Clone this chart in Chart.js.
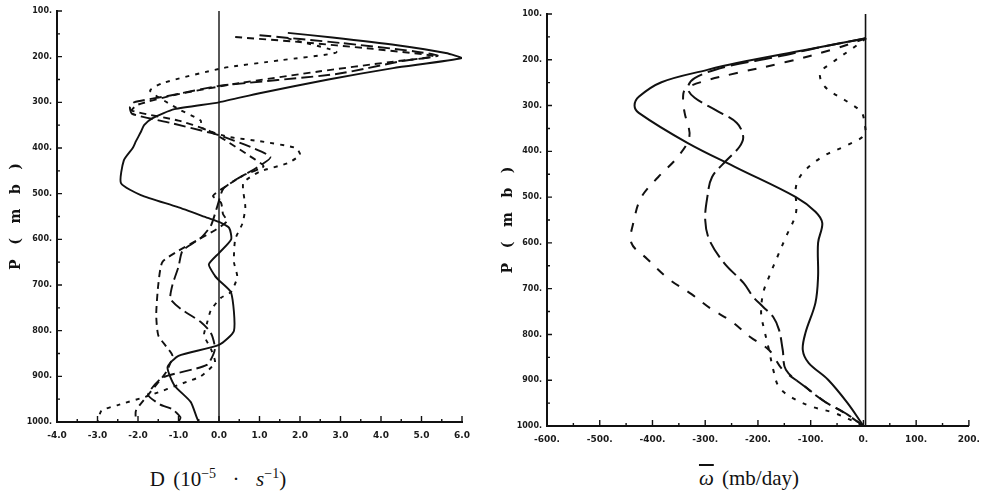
<!DOCTYPE html>
<html>
<head>
<meta charset="utf-8">
<script src="https://cdn.jsdelivr.net/npm/chart.js@4.4.0/dist/chart.umd.min.js"></script>
<style>
  body { margin: 0; background: #fff; }
  #wrap { position: relative; width: 988px; height: 498px; overflow: hidden; }
  canvas { position: absolute; top: 0; }
  #divChart { left: 0; }
  #omegaChart { left: 494px; }
  .xtitle {
    position: absolute; top: 466px;
    font-family: 'Liberation Serif', 'DejaVu Serif', serif;
    font-size: 21px; color: #111; white-space: nowrap;
    word-spacing: 3px;
    transform: translateX(-50%);
  }
  .xtitle sup { font-size: 14px; }
</style>
</head>
<body>
<div id="wrap">
  <canvas id="divChart" width="494" height="450"></canvas>
  <canvas id="omegaChart" width="494" height="450"></canvas>
  <div class="xtitle" style="left:218px">D (10<sup>&minus;5</sup>&nbsp;&nbsp;&middot;&nbsp;&nbsp;<i>s</i><sup>&minus;1</sup>)</div>
  <div class="xtitle" style="left:749px"><i style="text-decoration:overline">&omega;</i> (mb/day)</div>
</div>
<script>
// Panneau gauche : divergence D (10^-5 s^-1) selon la pression (mb)
const pLeftSolid = [148,158,175,192,203,225,250,280,300,315,335,350,365,385,400,427,477,503,529,553,562,575,600,630,655,680,690,717,800,831,855,880,920,956,990,1000];
const dLeftSolid = [1.7,2.8,4.4,5.6,6.0,4.3,2.7,1.0,0,-1.1,-1.65,-1.85,-1.93,-2.05,-2.13,-2.35,-2.42,-1.93,-1.03,-0.28,0,0.25,0.3,0,-0.25,-0.1,0,0.3,0.37,0,-1.0,-1.27,-1.1,-0.7,-0.55,-0.5];

const pLeftLong = [153,170,188,198,210,238,264,285,300,310,325,345,367,372,395,420,445,470,490,530,570,597,625,660,700,730,752,781,805,840,875,903,940,962,972,990,1000];
const dLeftLong = [1.0,3.0,4.8,5.4,4.5,2.9,0,-1.2,-2.1,-2.2,-2.15,-1.2,-0.2,0,0.7,1.27,0.9,0.4,0.1,-0.05,-0.2,-0.45,-0.9,-1.0,-1.15,-1.2,-0.95,-0.45,-0.2,-0.1,-0.3,-1.4,-1.75,-1.45,-1.15,-0.95,-1.0];

const pLeftMed = [157,168,183,199,212,232,258,282,305,318,340,360,380,420,440,460,485,505,520,545,560,580,600,625,650,700,765,810,835,855,890,935,975,1000];
const dLeftMed = [0.4,2.0,3.8,5.3,4.2,2.5,0.5,-1.0,-2.0,-2.15,-1.0,-0.3,0.1,0.8,1.1,0.6,0.15,-0.15,0.05,0.1,0.2,-0.1,-0.5,-1.0,-1.4,-1.5,-1.55,-1.5,-1.3,-1.15,-1.3,-1.7,-2.05,-2.05];

const pLeftShort = [160,190,208,225,258,275,317,340,355,375,385,400,415,433,452,477,530,565,600,650,682,715,728,755,785,810,840,870,900,912,943,963,975,1000];
const dLeftShort = [1.7,2.9,1.5,0.1,-1.4,-1.7,-0.95,-0.45,-0.45,0.2,1.0,1.9,2.0,1.7,1.0,0.6,0.65,0.58,0.4,0.37,0.45,0.3,0.05,-0.2,-0.3,-0.37,-0.2,-0.1,-0.45,-0.8,-1.75,-2.5,-2.9,-3.0];

// Panneau droit : omega moyen (mb/day)
const pRightSolid = [153,179,207,222,249,281,300,316,382,436,500,532,557,600,674,731,797,834,862,899,950,993,1000];
const wRightSolid = [5,-113,-240,-296,-383,-426,-434,-426,-333,-240,-128,-91,-78,-86,-86,-91,-110,-115,-104,-67,-30,-4,0];

const pRightLong = [153,172,194,215,240,262,283,310,338,368,390,419,456,500,550,594,644,688,718,740,762,790,834,877,915,947,975,1000];
const wRightLong = [5,-80,-166,-260,-320,-333,-320,-280,-240,-228,-235,-259,-287,-296,-300,-292,-264,-227,-209,-190,-171,-160,-153,-147,-110,-73,-30,0];

const pRightMed = [153,178,205,229,246,265,290,316,368,412,456,500,550,600,635,679,712,744,771,806,834,877,910,947,972,1000];
const wRightMed = [5,-60,-147,-240,-300,-338,-342,-339,-330,-352,-389,-421,-435,-440,-410,-369,-326,-289,-251,-214,-179,-153,-115,-73,-35,0];

const pRightDot = [153,172,207,229,259,292,314,338,364,386,412,447,478,535,587,622,674,709,753,790,834,877,915,939,958,972,1000];
const wRightDot = [5,-17,-60,-82,-73,-30,-4,2,2,-30,-78,-115,-128,-128,-147,-160,-179,-190,-194,-188,-179,-171,-160,-134,-97,-54,0];

// Axes
const pressureRange = [100, 1000];
const divRange = [-4, 6];
const omegaRange = [-600, 200];
const zeroLinePressure = [100, 1000];

const INK = '#111';

function pts(vals, pres) {
  return vals.map((v, i) => ({ x: v, y: pres[i] }));
}

function profile(vals, pres, dash, width, tension) {
  return {
    data: pts(vals, pres),
    showLine: true,
    borderColor: INK,
    borderWidth: width,
    borderDash: dash,
    borderCapStyle: 'butt',
    pointRadius: 0,
    tension: tension,
    fill: false
  };
}

// Petites graduations tournées vers l'intérieur
const innerTicks = {
  id: 'innerTicks',
  afterDraw(chart, args, opts) {
    const ctx = chart.ctx;
    const xs = chart.scales.x, ys = chart.scales.y;
    ctx.save();
    ctx.strokeStyle = INK;
    ctx.lineWidth = 1.4;
    ctx.beginPath();
    for (let v = xs.min; v <= xs.max + 1e-9; v += opts.xMinor) {
      const px = xs.getPixelForValue(v);
      const r = v / opts.xMajor;
      const len = Math.abs(r - Math.round(r)) < 1e-6 ? 6 : 3;
      ctx.moveTo(px, ys.bottom);
      ctx.lineTo(px, ys.bottom - len);
    }
    for (let v = ys.min; v <= ys.max + 1e-9; v += 50) {
      const py = ys.getPixelForValue(v);
      const len = v % 100 === 0 ? 5 : 3;
      ctx.moveTo(xs.left, py);
      ctx.lineTo(xs.left + len, py);
    }
    ctx.stroke();
    ctx.restore();
  }
};

function makeOptions(cfg) {
  return {
    responsive: false,
    animation: false,
    layout: { autoPadding: false, padding: cfg.padding },
    plugins: {
      legend: { display: false },
      tooltip: { enabled: false },
      innerTicks: cfg.ticks
    },
    scales: {
      x: {
        type: 'linear',
        min: cfg.xRange[0],
        max: cfg.xRange[1],
        afterFit: s => { s.height = cfg.xHeight; },
        grid: { display: true, drawOnChartArea: false, drawTicks: false },
        border: { display: true, color: INK, width: 2 },
        ticks: {
          stepSize: cfg.xStep,
          padding: 8,
          maxRotation: 0,
          autoSkip: false,
          color: '#1a1a1a',
          font: { family: 'DejaVu Sans', weight: 'bold', size: 9 },
          callback: cfg.xFormat
        }
      },
      y: {
        type: 'linear',
        reverse: true,
        min: pressureRange[0],
        max: pressureRange[1],
        afterFit: s => { s.width = cfg.yWidth; },
        grid: { display: true, drawOnChartArea: false, drawTicks: false },
        border: { display: true, color: INK, width: 2 },
        title: {
          display: true,
          text: 'P   (   m   b   )',
          color: INK,
          padding: { top: cfg.titlePad, bottom: 0 },
          font: { family: 'DejaVu Serif', weight: 'bold', size: 14 }
        },
        ticks: {
          stepSize: 100,
          padding: 5,
          autoSkip: false,
          color: '#1a1a1a',
          font: { family: 'DejaVu Sans', weight: 'bold', size: 8 },
          callback: v => v + '.'
        }
      }
    }
  };
}

new Chart(document.getElementById('divChart'), {
  type: 'scatter',
  data: {
    datasets: [
      profile([0, 0], zeroLinePressure, [], 1.4, 0),
      profile(dLeftSolid, pLeftSolid, [], 1.9, 0.2),
      profile(dLeftLong, pLeftLong, [12, 5], 1.9, 0.2),
      profile(dLeftMed, pLeftMed, [7, 5], 1.9, 0.2),
      profile(dLeftShort, pLeftShort, [4, 6], 1.9, 0.2)
    ]
  },
  options: makeOptions({
    padding: { left: 0, right: 32, top: 11, bottom: 0 },
    xRange: divRange, xStep: 1, xHeight: 28, yWidth: 57, titlePad: 8,
    xFormat: v => v.toFixed(1),
    ticks: { xMinor: 0.5, xMajor: 1 }
  }),
  plugins: [innerTicks]
});

new Chart(document.getElementById('omegaChart'), {
  type: 'scatter',
  data: {
    datasets: [
      profile([4, 4], zeroLinePressure, [], 1.6, 0),
      profile(wRightSolid, pRightSolid, [], 2, 0.35),
      profile(wRightLong, pRightLong, [18, 6], 2, 0.35),
      profile(wRightMed, pRightMed, [9, 10], 2, 0.35),
      profile(wRightDot, pRightDot, [4, 8], 2, 0.35)
    ]
  },
  options: makeOptions({
    padding: { left: 0, right: 11, top: 14, bottom: 0 },
    xRange: omegaRange, xStep: 100, xHeight: 24, yWidth: 53, titlePad: 6,
    xFormat: v => v + '.',
    ticks: { xMinor: 50, xMajor: 100 }
  }),
  plugins: [innerTicks]
});
</script>
</body>
</html>
